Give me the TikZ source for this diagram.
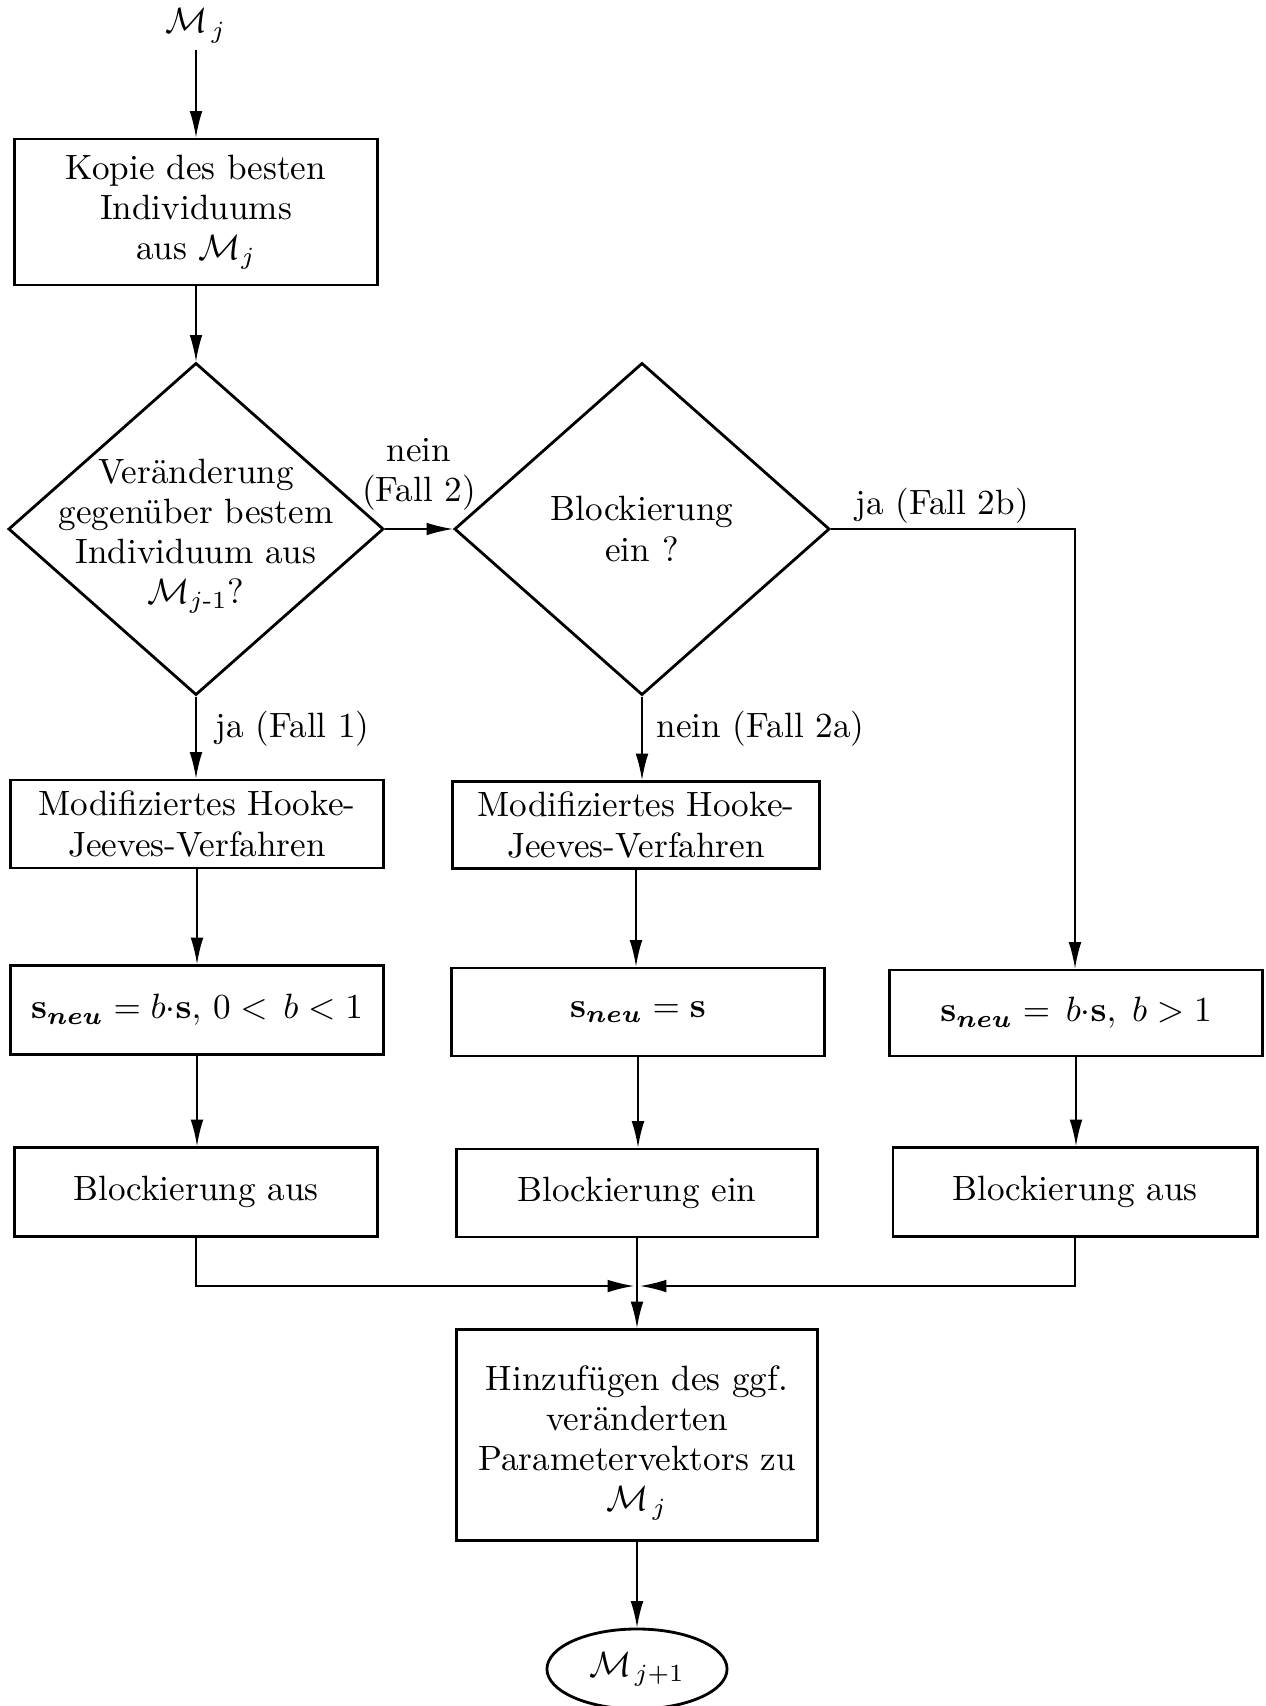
\documentclass[tikz,border=0pt]{standalone}
\usepackage{amsmath,bm}
\usetikzlibrary{shapes.geometric,arrows.meta}
\begin{document}
\begin{tikzpicture}[x=0.01cm,y=-0.01cm,
  every node/.style={font=\fontsize{10}{11.4}\selectfont},
  box/.style={draw,line width=0.8pt,align=center,inner sep=0pt},
  decision/.style={diamond,draw,line width=0.8pt,inner sep=0pt,
    minimum width=3.75cm,minimum height=3.32cm},
  term/.style={ellipse,draw,line width=0.8pt,inner sep=0pt,
    minimum width=1.80cm,minimum height=0.80cm},
  txt/.style={align=center,inner sep=0pt},
  arr/.style={-{Latex[length=7.5pt,width=3.6pt]},line width=0.45pt},
  conn/.style={line width=0.45pt}]
\useasboundingbox (0,0) rectangle (1265,1706);

% start
\node[txt] (mj) at (196,26) {$\mathcal{M}_{\mkern2mu j}$};
\node[box,minimum width=3.62cm,minimum height=1.46cm] (kop) at (196,212)
  {Kopie des besten\\Individuums\\aus $\mathcal{M}_j$};

% decisions
\node[decision] (d1) at (196,529) {};
\node[txt] (d1t) at (196,536)
  {Veränderung\\gegenüber bestem\\Individuum aus\\$\mathcal{M}_{j\text{-}1}$?};
\node[decision] (d2) at (642,529) {};
\node[txt] (d2t) at (642,529) {Blockierung\\ein ?};
\coordinate (c2b) at (1075,529);

% edge labels
\node[txt] (lnein) at (419,474) {nein\\(Fall 2)};
\node[txt] (l2b) at (942,506) {ja (Fall 2b)};
\node[txt,anchor=west] (l1) at (215,729) {ja (Fall 1)};
\node[txt,anchor=west] (l2a) at (656,729) {nein (Fall 2a)};

% Hooke-Jeeves boxes
\node[box,minimum width=3.73cm,minimum height=0.88cm] (hjL) at (197,824)
  {Modifiziertes Hooke-\\Jeeves-Verfahren};
\node[box,minimum width=3.67cm,minimum height=0.87cm] (hjM) at (636,825)
  {Modifiziertes Hooke-\\Jeeves-Verfahren};

% step size boxes
\node[box,minimum width=3.72cm,minimum height=0.89cm] (sL) at (197,1010)
  {$\mathbf{s}_{\bm{neu}} = b{\cdot}\mathbf{s},\, 0 <\, b < 1$};
\node[box,minimum width=3.73cm,minimum height=0.88cm] (sM) at (638,1012)
  {$\mathbf{s}_{\bm{neu}} = \mathbf{s}$};
\node[box,minimum width=3.72cm,minimum height=0.86cm] (sR) at (1076,1013)
  {$\mathbf{s}_{\bm{neu}} = \,b{\cdot}\mathbf{s},\; b > 1$};

% blocking boxes
\node[box,minimum width=3.62cm,minimum height=0.89cm] (bL) at (196,1192) {Blockierung aus};
\node[box,minimum width=3.61cm,minimum height=0.88cm] (bM) at (637,1193) {Blockierung ein};
\node[box,minimum width=3.64cm,minimum height=0.89cm] (bR) at (1075,1192) {Blockierung aus};

% final
\coordinate (mrg) at (637,1286);
\node[box,minimum width=3.61cm,minimum height=2.11cm] (fin) at (637,1435)
  {\rule{0pt}{11.5pt}Hinzufügen des ggf.\\veränderten\\Parametervektors zu\\$\mathcal{M}_{\mkern2mu j}$};
\node[term] (ell) at (637,1669) {$\mathcal{M}_{\mkern2mu j+1}$};

% connectors
\draw[arr] ([yshift=-0.06cm]mj.south) -- (kop.north);
\draw[arr] (kop.south) -- (d1.north);
\draw[arr] (d1.east) -- (d2.west);
\draw[arr] (d1.south) -- (d1.south |- hjL.north);
\draw[arr] (d2.south) -- (d2.south |- hjM.north);
\draw[arr] (d2.east) -- (c2b) -- (c2b |- sR.north);
\draw[arr] (hjL.south) -- (hjL.south |- sL.north);
\draw[arr] (hjM.south) -- (hjM.south |- sM.north);
\draw[arr] (sL.south) -- (sL.south |- bL.north);
\draw[arr] (sM.south) -- (sM.south |- bM.north);
\draw[arr] (sR.south) -- (sR.south |- bR.north);
\draw[arr] (bL.south) |- ([xshift=-0.03cm]mrg);
\draw[arr] (bR.south) |- ([xshift=0.03cm]mrg);
\draw[arr] (bM.south) -- (fin.north);
\draw[arr] (fin.south) -- (ell.north);
\end{tikzpicture}
\end{document}
